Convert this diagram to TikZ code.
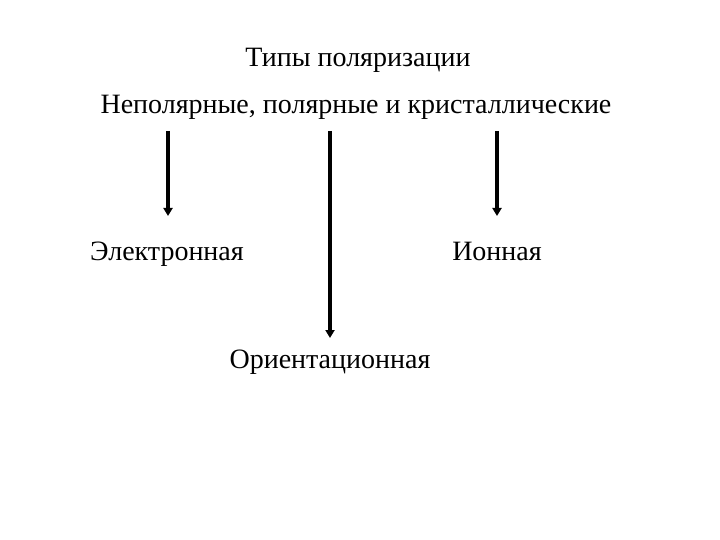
\documentclass[tikz,border=0pt]{standalone}
\usepackage{fontspec}
\setmainfont{Liberation Serif}
\usetikzlibrary{arrows.meta}
\begin{document}
\begin{tikzpicture}[x=1pt,y=-1pt,
  lbl/.style={font=\fontsize{28}{32}\selectfont, inner sep=0pt, anchor=base},
  arr/.style={line width=3.5pt, -{Triangle[width=9pt,length=8pt]}}]
\useasboundingbox (0,0) rectangle (720,540);
\node[lbl] (title) at (358,67) {Типы поляризации};
\node[lbl] (sub) at (356,114) {Неполярные, полярные и кристаллические};
\node[lbl] (el) at (167,260) {Электронная};
\node[lbl] (ion) at (497,260) {Ионная};
\node[lbl] (or) at (330,368) {Ориентационная};
\coordinate (a1) at (168,131);
\coordinate (a1e) at (168,216);
\coordinate (a2) at (330,131);
\coordinate (a2e) at (330,338);
\coordinate (a3) at (497,131);
\coordinate (a3e) at (497,216);
\draw[arr] (a1) -- (a1e);
\draw[arr] (a2) -- (a2e);
\draw[arr] (a3) -- (a3e);
\end{tikzpicture}
\end{document}
